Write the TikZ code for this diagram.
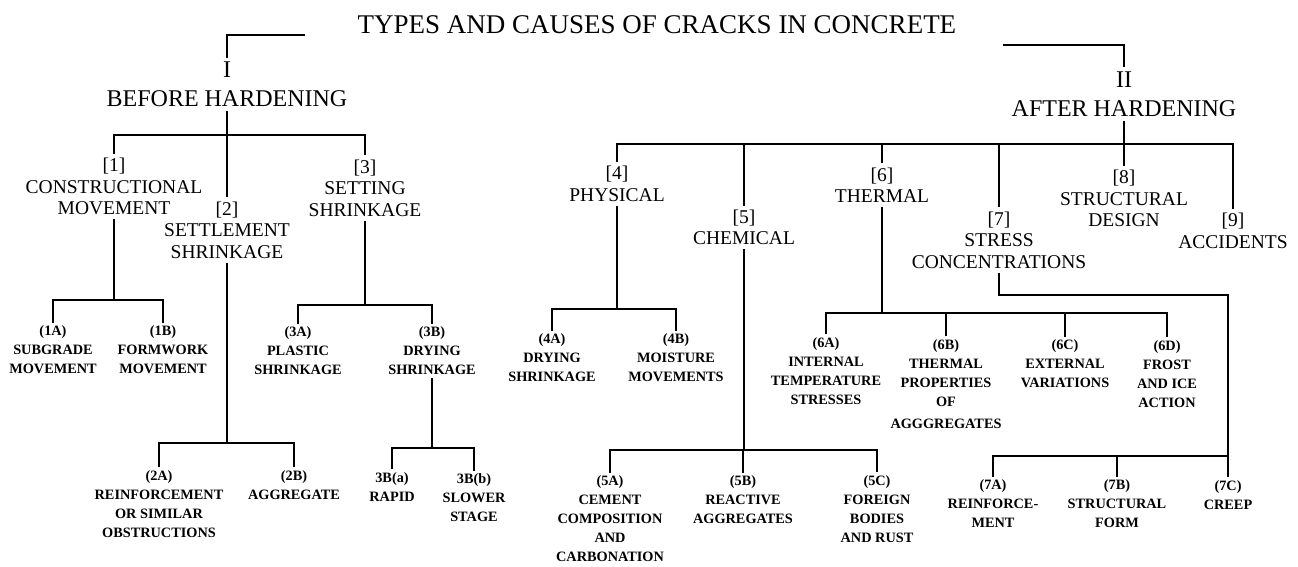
\documentclass[tikz,border=0pt]{standalone}
\usepackage{fontspec}
\setmainfont{Liberation Serif}
\begin{document}
\begin{tikzpicture}[x=1pt,y=-1pt,
  ttl/.style={inner sep=2pt, font=\fontsize{27}{30}\selectfont},
  big/.style={align=center, inner sep=4pt, font=\fontsize{24}{29}\selectfont},
  lab/.style={align=center, inner sep=4pt, font=\fontsize{19.5}{21.5}\selectfont},
  sm/.style={align=center, inner sep=3pt, font=\bfseries\fontsize{14.3}{19}\selectfont},
  ln/.style={line width=2.3pt}]
\useasboundingbox (0,0) rectangle (1298,566);

% title and roots
\node[ttl] (title) at (657,25) {TYPES AND CAUSES OF CRACKS IN CONCRETE};
\node[big] (bh) at (227,84.5) {I\\BEFORE HARDENING};
\node[big] (ah) at (1124,94) {II\\AFTER HARDENING};
\coordinate (tl) at (305,35);
\coordinate (tr) at (1003,45);

% level 1, before hardening
\node[lab] (n1) at (114,186.5) {[1]\\CONSTRUCTIONAL\\MOVEMENT};
\node[lab] (n2) at (227,230) {[2]\\SETTLEMENT\\SHRINKAGE};
\node[lab] (n3) at (365,188) {[3]\\SETTING\\SHRINKAGE};

% level 1, after hardening
\node[lab] (n4) at (617,184) {[4]\\PHYSICAL};
\node[lab] (n5) at (744,227.5) {[5]\\CHEMICAL};
\node[lab] (n6) at (882,185) {[6]\\THERMAL};
\node[lab] (n7) at (999,240) {[7]\\STRESS\\CONCENTRATIONS};
\node[lab] (n8) at (1124,198.5) {[8]\\STRUCTURAL\\DESIGN};
\node[lab] (n9) at (1233,231) {[9]\\ACCIDENTS};

% level 2
\node[sm] (a1A) at (53,350) {(1A)\\SUBGRADE\\MOVEMENT};
\node[sm] (a1B) at (163,350) {(1B)\\FORMWORK\\MOVEMENT};
\node[sm] (a2A) at (159,504) {(2A)\\REINFORCEMENT\\OR SIMILAR\\OBSTRUCTIONS};
\node[sm] (a2B) at (294,485) {(2B)\\AGGREGATE};
\node[sm] (a3A) at (298,351) {(3A)\\PLASTIC\\SHRINKAGE};
\node[sm] (a3B) at (432,351) {(3B)\\DRYING\\SHRINKAGE};
\node[sm] (a3Ba) at (392,487) {3B(a)\\RAPID};
\node[sm] (a3Bb) at (474,498) {3B(b)\\SLOWER\\STAGE};

\node[sm] (a4A) at (552,358) {(4A)\\DRYING\\SHRINKAGE};
\node[sm] (a4B) at (676,358) {(4B)\\MOISTURE\\MOVEMENTS};
\node[sm] (a5A) at (610,519) {(5A)\\CEMENT\\COMPOSITION\\AND\\CARBONATION};
\node[sm] (a5B) at (743,500) {(5B)\\REACTIVE\\AGGREGATES};
\node[sm] (a5C) at (877,509) {(5C)\\FOREIGN\\BODIES\\AND RUST};
\node[sm] (a6A) at (826,371) {(6A)\\INTERNAL\\TEMPERATURE\\STRESSES};
\node[sm] (a6B) at (946,384) {(6B)\\THERMAL\\PROPERTIES\\OF\\[3pt]AGGGREGATES};
\node[sm] (a6C) at (1065,364) {(6C)\\EXTERNAL\\VARIATIONS};
\node[sm] (a6D) at (1167,374) {(6D)\\FROST\\AND ICE\\ACTION};
\node[sm] (a7A) at (993,504) {(7A)\\REINFORCE-\\MENT};
\node[sm] (a7B) at (1117,504) {(7B)\\STRUCTURAL\\FORM};
\node[sm] (a7C) at (1228,495) {(7C)\\CREEP};

% junction levels
\coordinate (jb) at (0,135);
\coordinate (ja) at (0,144);
\coordinate (j1) at (0,300);
\coordinate (j2) at (0,443);
\coordinate (j3) at (0,305);
\coordinate (j3b) at (0,448);
\coordinate (j4) at (0,309);
\coordinate (j5) at (0,450);
\coordinate (j6) at (0,313);
\coordinate (c7) at (0,295);
\coordinate (j7) at (0,456);

% connectors
\draw[ln] (tl) -| (bh.north);
\draw[ln] (tr) -| (ah.north);

\draw[ln] (bh.south) -- (n2.north);
\draw[ln] (n1.north) |- (n3.north |- jb) -- (n3.north);

\draw[ln] (n1.south) -- (n1.south |- j1);
\draw[ln] (a1A.north) |- (a1B.north |- j1) -- (a1B.north);

\draw[ln] (n2.south) -- (n2.south |- j2);
\draw[ln] (a2A.north) |- (a2B.north |- j2) -- (a2B.north);

\draw[ln] (n3.south) -- (n3.south |- j3);
\draw[ln] (a3A.north) |- (a3B.north |- j3) -- (a3B.north);

\draw[ln] (a3B.south) -- (a3B.south |- j3b);
\draw[ln] (a3Ba.north) |- (a3Bb.north |- j3b) -- (a3Bb.north);

\draw[ln] (ah.south) -- (n8.north);
\draw[ln] (n4.north) |- (n9.north |- ja) -- (n9.north);
\draw[ln] (n5.north) -- (n5.north |- ja);
\draw[ln] (n6.north) -- (n6.north |- ja);
\draw[ln] (n7.north) -- (n7.north |- ja);

\draw[ln] (n4.south) -- (n4.south |- j4);
\draw[ln] (a4A.north) |- (a4B.north |- j4) -- (a4B.north);

\draw[ln] (n5.south) -- (n5.south |- j5);
\draw[ln] (a5A.north) |- (a5C.north |- j5) -- (a5C.north);
\draw[ln] (a5B.north) -- (a5B.north |- j5);

\draw[ln] (n6.south) -- (n6.south |- j6);
\draw[ln] (a6A.north) |- (a6D.north |- j6) -- (a6D.north);
\draw[ln] (a6B.north) -- (a6B.north |- j6);
\draw[ln] (a6C.north) -- (a6C.north |- j6);

\draw[ln] (n7.south) |- (a7C.north |- c7) -- (a7C.north);
\draw[ln] (a7A.north) |- (a7C.north |- j7);
\draw[ln] (a7B.north) -- (a7B.north |- j7);
\end{tikzpicture}
\end{document}
